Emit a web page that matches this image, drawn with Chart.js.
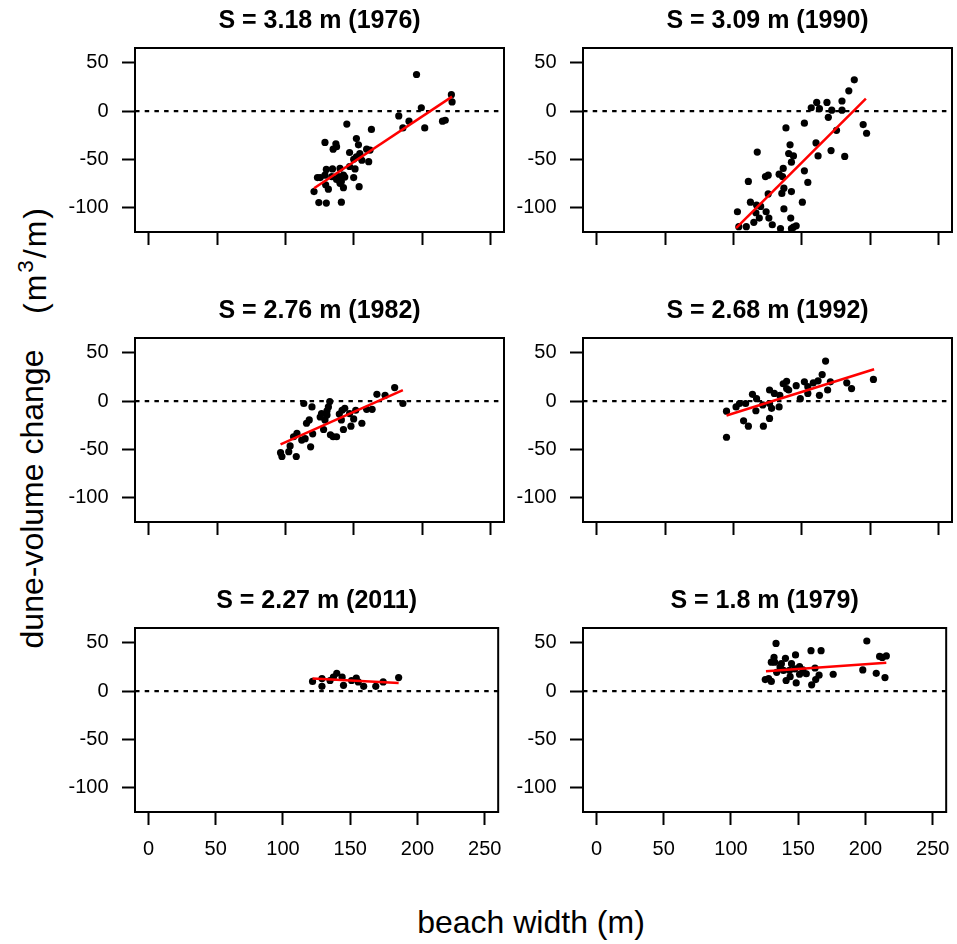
<!DOCTYPE html>
<html>
<head>
<meta charset="utf-8">
<title>dune-volume change vs beach width</title>
<script src="https://cdn.jsdelivr.net/npm/chart.js@4.4.1/dist/chart.umd.min.js"></script>
<style>
  body { margin: 0; background: #fff; }
  #wrap { position: relative; width: 957px; height: 944px; overflow: hidden;
          font-family: "Liberation Sans", Arial, sans-serif; color: #000; }
  canvas { position: absolute; }
  .lab { position: absolute; white-space: nowrap; font-size: 32px; line-height: 32px; }
  .rot { transform: translate(-50%, -50%) rotate(-90deg); }
  sup { font-size: 0.7em; vertical-align: 0.6em; line-height: 0; }
</style>
</head>
<body>
<div id="wrap">
  <div class="lab rot" style="left:32px; top:499px;">dune-volume change</div>
  <div class="lab rot" style="left:35px; top:260px; letter-spacing:2px;">(m<sup>3</sup>/m)</div>
  <div class="lab" style="left:331px; top:906px; width:400px; text-align:center;">beach width (m)</div>
</div>
<script>
// axes
const xTicks = [0, 50, 100, 150, 200, 250];
const yTicks = [-100, -50, 0, 50];
const xMin = -10, xMax = 260;
const yMin = -125.5, yMax = 65.5;

// panel titles, in reading order
const titles = ['S = 3.18 m (1976)', 'S = 3.09 m (1990)', 'S = 2.76 m (1982)',
                'S = 2.68 m (1992)', 'S = 2.27 m (2011)', 'S = 1.8 m (1979)'];

// [beach width, dune-volume change] per storm
const pts1976 = [[196,38],[221.5,17],[222,9.5],[199.5,3.5],[183,-5],[190.5,-10.5],[186,-17.5],[202,-17.5],[215,-10.5],[217,-9.5],
  [145,-13.5],[163,-19],[129,-32.5],[137,-34],[135,-39.5],[137.5,-37],[152,-28.5],[153.5,-35],[147,-43],[159.5,-39.5],
  [162,-40.5],[154.5,-44],[152,-47.5],[156,-51],[161,-52.5],[150,-50],[147,-57.5],[151,-60],[130,-60.5],[134.5,-60],
  [140,-59.5],[125.5,-69],[129,-66.5],[134,-68],[139,-68],[142.5,-66.5],[137.5,-71],[141,-73],[143.5,-68.5],[150,-69],
  [123.5,-69],[121,-83.5],[129.5,-76.5],[131.5,-81],[142.5,-79.5],[154,-78.5],[124.5,-95],[130,-95.5],[141,-94.5],[140,-75]];
const pts1990 = [[188.5,32.5],[184.5,21],[161,9],[168.5,9],[179.5,10.5],[157,3.5],[163,2.5],[172,1],[179.5,1],[169.5,-6.5],
  [152,-12.5],[195,-14],[197.5,-23],[175.5,-20],[138.5,-17.5],[160.5,-33],[162,-46.5],[171.5,-41],[181.5,-47],[141.5,-35],
  [140.5,-44],[144,-46.5],[142.5,-53],[117.5,-42.5],[136.5,-59.5],[133.5,-65.5],[136,-68],[123.5,-68],[125.5,-66.5],[152,-62],
  [154.5,-74],[111,-73],[125.5,-86],[135.5,-85.5],[137,-80],[142.5,-83.5],[112.5,-94.5],[117,-97.5],[120,-99],[137,-101.5],
  [150.5,-94.5],[103,-104.5],[116.5,-105.5],[124,-104.5],[119,-111],[126,-111],[115,-115.5],[142,-111],[128.5,-118],[109.5,-120],
  [104,-120],[146,-119],[134.5,-122],[142.5,-122],[144,-120.5]];
const pts1982 = [[180,14],[186,-2.5],[167,7],[173,6],[163.5,-8.5],[159.5,-8.5],[151.5,-9.5],[132.5,-0.5],[113.5,-2.5],[119.5,-6],
  [131.5,-6],[141.5,-9.5],[143.5,-7.5],[126.5,-13],[130.5,-14.5],[139.5,-13.5],[147,-13],[150,-18.5],[129,-19.5],[141,-19.5],
  [117.5,-19.5],[115.5,-23],[156,-23],[148,-26],[128,-29.5],[142.5,-29.5],[108.5,-33.5],[120,-34],[133,-35],[137.5,-37],
  [135,-37],[112,-40.5],[114.5,-39],[106,-37],[118.5,-47.5],[103.5,-46.5],[102.5,-52.5],[96.5,-53.5],[97.5,-57.5],[108,-57.5],
  [125.5,-16.5],[130.5,-10]];
const pts1992 = [[167.5,41.5],[165,27.5],[202.5,22.5],[183,19],[186.5,13],[171,20],[162,21],[158.5,19],[152,20],[154.5,15],
  [146,16],[136.5,18],[139,20.5],[140.5,11.5],[169,11.5],[163,6],[154.5,8],[149,2.5],[126.5,11.5],[134,6],
  [130,8],[114,7],[117,2.5],[104.5,-2.5],[109,-2.5],[121.5,-4],[126.5,-2.5],[133.5,-6],[128,-7.5],[116.5,-10],
  [95,-10.5],[102,-6],[107.5,-20.5],[111,-26],[122,-26],[126.5,-18],[95,-37.5],[139,13]];
const pts2011 = [[186,14],[140,18.5],[137.5,14.5],[144,14.5],[129,13],[122,10],[129,5],[145,6],[151,11],[154.5,13.5],
  [156,9.5],[160,5],[169,5],[174.5,9.5],[135,11]];
const pts1979 = [[201,52],[133.5,49.5],[159.5,42],[167,42],[148,37.5],[140.5,34],[132,35],[210.5,36],[215.5,36.5],[212.5,35],
  [130,30],[137.5,28.5],[145,28.5],[151,25.5],[162.5,24],[198,22],[208,18.5],[214.5,14],[176,17.5],[165.5,16.5],
  [163,12],[160,6.5],[156,18],[151,17.5],[148.5,8.5],[141,11],[144,15],[139,21.5],[134,19.5],[128,13],
  [130,10],[125.5,12],[136.5,25],[147.5,23],[143.5,21.5],[153.5,22],[132.5,30]];

// fitted line end points
const fit1976 = [[121,-80],[222,15]];
const fit1990 = [[102,-121.5],[197,13]];
const fit1982 = [[96.5,-45],[186,11.5]];
const fit1992 = [[95,-15],[203,33]];
const fit2011 = [[122,13],[186,8.5]];
const fit1979 = [[126,20.5],[215.5,29.5]];

const puntos = [pts1976, pts1990, pts1982, pts1992, pts2011, pts1979];
const ajustes = [fit1976, fit1990, fit1982, fit1992, fit2011, fit1979];

// layout of the 2x3 grid
const boxLeft = [135, 583];
const boxTop = [48, 338, 628];
const boxW = 369, boxH = 184;
const padL = 90, padT = 48, padR = 10, padB = 60;
const fuente = '"Liberation Sans", Arial, sans-serif';

Chart.defaults.font.family = fuente;
Chart.defaults.color = '#000';

// box around the plot region
const marco = {
  id: 'marco',
  afterDraw: (chart) => {
    const { ctx, chartArea: a } = chart;
    ctx.save();
    ctx.strokeStyle = '#000';
    ctx.lineWidth = 2;
    ctx.strokeRect(a.left, a.top, a.right - a.left, a.bottom - a.top);
    ctx.restore();
  }
};

const aXY = (arr) => arr.map(p => ({ x: p[0], y: p[1] }));

const crearPanel = (i) => {
  const col = i % 2, row = Math.floor(i / 2);
  const canvas = document.createElement('canvas');
  canvas.width = padL + boxW + padR;
  canvas.height = padT + boxH + padB;
  canvas.style.left = (boxLeft[col] - padL) + 'px';
  canvas.style.top = (boxTop[row] - padT) + 'px';
  document.getElementById('wrap').appendChild(canvas);

  const grid = { drawOnChartArea: false, drawTicks: true, tickLength: 13, tickWidth: 2, tickColor: '#000' };

  new Chart(canvas, {
    type: 'scatter',
    data: {
      datasets: [
        { data: aXY(puntos[i]), backgroundColor: '#000', pointRadius: 3.6, pointBorderWidth: 0,
          pointHoverRadius: 3.6, clip: 0, order: 2 },
        { type: 'line', data: aXY(ajustes[i]), borderColor: '#ff0000', borderWidth: 2.5,
          pointRadius: 0, fill: false, clip: 0, order: 1 },
        { type: 'line', data: [{ x: xMin, y: 0 }, { x: xMax, y: 0 }], borderColor: '#000', borderWidth: 2.4,
          borderDash: [4.5, 5.2], pointRadius: 0, fill: false, clip: 0, order: 3 }
      ]
    },
    options: {
      responsive: false,
      animation: false,
      events: [],
      layout: { padding: { right: padR } },
      plugins: {
        legend: { display: false },
        tooltip: { enabled: false },
        title: {
          display: true, text: titles[i], fullSize: false, color: '#000',
          font: { size: 25, weight: 'bold', lineHeight: 1.2 },
          padding: { top: 6, bottom: 12 }
        }
      },
      scales: {
        x: {
          type: 'linear', min: xMin, max: xMax,
          afterBuildTicks: (s) => { s.ticks = xTicks.map(v => ({ value: v })); },
          afterFit: (s) => { s.height = padB; },
          grid: grid,
          border: { display: false },
          ticks: { display: row === 2, font: { size: 20 }, padding: 12, maxRotation: 0, autoSkip: false }
        },
        y: {
          type: 'linear', min: yMin, max: yMax,
          afterBuildTicks: (s) => { s.ticks = yTicks.map(v => ({ value: v })); },
          afterFit: (s) => { s.width = padL; },
          grid: grid,
          border: { display: false },
          ticks: { font: { size: 20 }, padding: 13.5, autoSkip: false }
        }
      }
    },
    plugins: [marco]
  });
};

titles.forEach((t, i) => crearPanel(i));
</script>
</body>
</html>
